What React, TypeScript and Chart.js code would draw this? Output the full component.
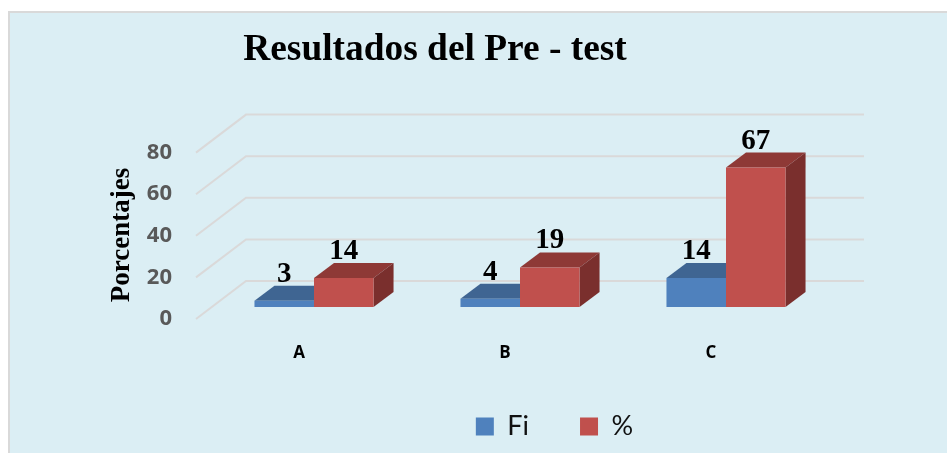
import React, { useEffect, useRef } from "react";
import { Chart, registerables } from "chart.js";

Chart.register(...registerables);

const categories = ["A", "B", "C"];
const fiValues = [3, 4, 14];
const pctValues = [14, 19, 67];
const yTicks = [0, 20, 40, 60, 80];

const PANEL_BG = "#DBEEF4";
const PANEL_BORDER = "#D9D9D9";
const GRID = "#DAD9D9";
const DEPTH_X = 20;
const DEPTH_Y = 15;
const FLOOR_FRONT_Y = 12;
const FLOOR_X0 = 196;
const WALL_X = 246;
const WALL_X1 = 864;
const WALL_UP = 26;

const faceColors = [
  { top: "#3F6592", side: "#3B5E88" },
  { top: "#8E3936", side: "#7A2F2D" },
];

const panelPlugin = {
  id: "panel",
  beforeDraw(chart: any) {
    const { ctx, width, height } = chart;
    ctx.save();
    ctx.fillStyle = PANEL_BORDER;
    ctx.fillRect(8, 11, width - 8, height - 11);
    ctx.fillStyle = PANEL_BG;
    ctx.fillRect(10, 13, width - 10, height - 13);
    ctx.restore();
    // shift the legend to sit under the right part of the plot
    if (chart.legend) {
      chart.legend.left = 161.5;
      chart.legend.right = 947.5;
      chart.legend.top = 362;
      chart.legend.bottom = 451;
    }
  },
};

const depthPlugin = {
  id: "depth",
  beforeDatasetsDraw(chart: any) {
    const { ctx, scales } = chart;
    ctx.save();
    ctx.strokeStyle = GRID;
    ctx.lineWidth = 2;
    yTicks.forEach((t) => {
      const y = scales.y.getPixelForValue(t);
      ctx.beginPath();
      ctx.moveTo(FLOOR_X0, y + FLOOR_FRONT_Y);
      ctx.lineTo(WALL_X, y - WALL_UP);
      ctx.lineTo(WALL_X1, y - WALL_UP);
      ctx.stroke();
    });
    chart.data.datasets.forEach((_: any, di: number) => {
      chart.getDatasetMeta(di).data.forEach((bar: any) => {
        const l = bar.x - bar.width / 2;
        const r = bar.x + bar.width / 2;
        const t = bar.y;
        const b = bar.base;
        ctx.fillStyle = faceColors[di].top;
        ctx.beginPath();
        ctx.moveTo(l, t);
        ctx.lineTo(l + DEPTH_X, t - DEPTH_Y);
        ctx.lineTo(r + DEPTH_X, t - DEPTH_Y);
        ctx.lineTo(r, t);
        ctx.closePath();
        ctx.fill();
        ctx.fillStyle = faceColors[di].side;
        ctx.beginPath();
        ctx.moveTo(r, t);
        ctx.lineTo(r + DEPTH_X, t - DEPTH_Y);
        ctx.lineTo(r + DEPTH_X, b - DEPTH_Y);
        ctx.lineTo(r, b);
        ctx.closePath();
        ctx.fill();
      });
    });
    ctx.restore();
  },
  afterDatasetsDraw(chart: any) {
    const { ctx } = chart;
    ctx.save();
    ctx.fillStyle = "#000";
    ctx.font = 'bold 29px "Liberation Serif"';
    ctx.textAlign = "center";
    ctx.textBaseline = "alphabetic";
    chart.data.datasets.forEach((ds: any, di: number) => {
      chart.getDatasetMeta(di).data.forEach((bar: any, i: number) => {
        ctx.fillText(String(ds.data[i]), bar.x, bar.y - DEPTH_Y - 4);
      });
    });
    ctx.font = 'bold 27px "Liberation Serif"';
    ctx.translate(122, 235);
    ctx.rotate(-Math.PI / 2);
    ctx.textBaseline = "middle";
    ctx.fillText("Porcentajes", 0, 0);
    ctx.restore();
  },
};

export default function App() {
  const ref = useRef<HTMLCanvasElement>(null);
  useEffect(() => {
    const chart = new Chart(ref.current!, {
      type: "bar",
      data: {
        labels: categories,
        datasets: [
          { label: "Fi", data: fiValues, backgroundColor: "#4F81BD", borderWidth: 0 },
          { label: "%", data: pctValues, backgroundColor: "#C0504D", borderWidth: 0 },
        ],
      },
      options: {
        animation: false,
        responsive: false,
        layout: { padding: { top: 28, left: 41, right: 118, bottom: 2 } },
        datasets: { bar: { categoryPercentage: 0.578, barPercentage: 1 } },
        scales: {
          x: {
            grid: { display: false },
            border: { display: false },
            afterFit: (s: any) => { s.height = 56; },
            ticks: {
              color: "#000",
              labelOffset: -15,
              padding: 28,
              maxRotation: 0,
              font: { family: "Open Sans", weight: "bold", size: 17 },
            },
          },
          y: {
            min: 0,
            max: 80,
            afterFit: (s: any) => { s.width = 170; },
            grid: { display: false },
            border: { display: false },
            ticks: {
              stepSize: 20,
              color: "#595959",
              padding: 31,
              labelOffset: 12,
              font: { family: "Open Sans", weight: "bold", size: 22 },
            },
          },
        },
        plugins: {
          title: {
            display: true,
            text: "Resultados del Pre - test",
            color: "#000",
            font: { family: "Liberation Serif", weight: "bold", size: 37.4 },
            padding: { top: 0, bottom: 67.7 },
          },
          legend: {
            position: "bottom",
            labels: {
              boxWidth: 18,
              boxHeight: 18,
              padding: 51,
              color: "#111",
              font: { family: "Lato", size: 27 },
            },
          },
          tooltip: { enabled: false },
        },
      },
      plugins: [panelPlugin, depthPlugin],
    } as any);
    return () => chart.destroy();
  }, []);
  return (
    <canvas
      ref={ref}
      width={947}
      height={453}
      style={{ position: "absolute", left: 0, top: 0, width: 947, height: 453 }}
    />
  );
}
